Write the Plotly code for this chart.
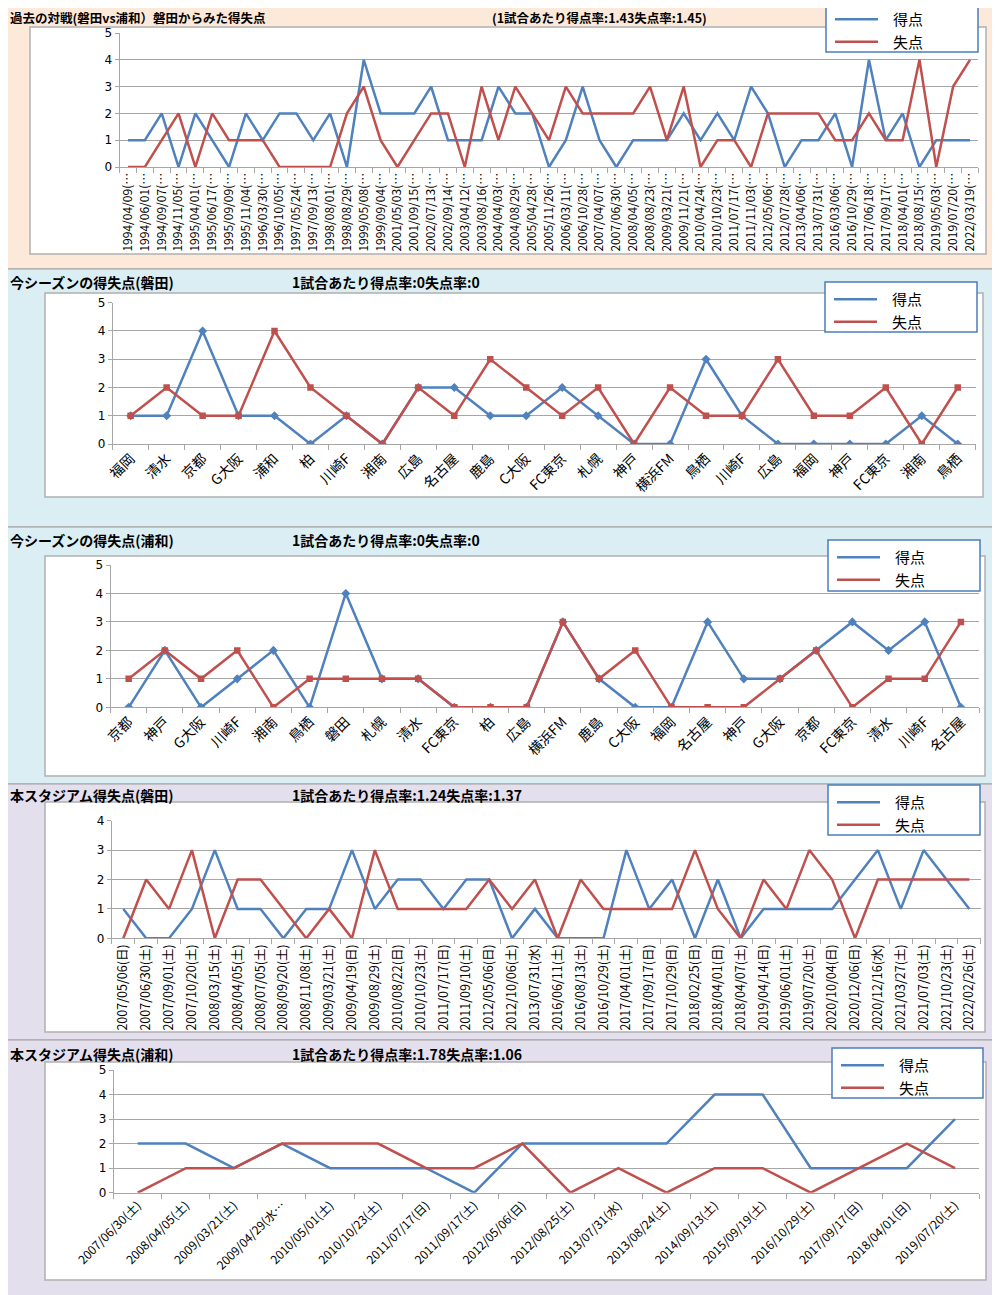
import plotly.graph_objects as go

W, H = 1000, 1295
OFF = 8  # the page body margin shifts the figure by 8px; positions below are page pixels
FONT = "Noto Sans CJK JP"
BLUE = "#4F81BD"
RED = "#C0504D"
GRID = "#A6A6A6"

# ---------------- data ----------------
# Panel 1: 過去の対戦
p1_dates = ["1994/04/09", "1994/06/01", "1994/09/07", "1994/11/05", "1995/04/01", "1995/06/17",
            "1995/09/09", "1995/11/04", "1996/03/30", "1996/10/05", "1997/05/24", "1997/09/13",
            "1998/08/01", "1998/08/29", "1999/05/08", "1999/09/04", "2001/05/03", "2001/09/15",
            "2002/07/13", "2002/09/14", "2003/04/12", "2003/08/16", "2004/04/03", "2004/08/29",
            "2005/04/28", "2005/11/26", "2006/03/11", "2006/10/28", "2007/04/07", "2007/06/30",
            "2008/04/05", "2008/08/23", "2009/03/21", "2009/11/21", "2010/04/24", "2010/10/23",
            "2011/07/17", "2011/11/03", "2012/05/06", "2012/07/28", "2013/04/06", "2013/07/31",
            "2016/03/06", "2016/10/29", "2017/06/18", "2017/09/17", "2018/04/01", "2018/08/15",
            "2019/05/03", "2019/07/20", "2022/03/19"]
p1_labels = [d + "(…" for d in p1_dates]
p1_gain = [1, 1, 2, 0, 2, 1, 0, 2, 1, 2, 2, 1, 2, 0, 4, 2, 2,
           2, 3, 1, 1, 1, 3, 2, 2, 0, 1, 3, 1, 0, 1, 1, 1, 2,
           1, 2, 1, 3, 2, 0, 1, 1, 2, 0, 4, 1, 2, 0, 1, 1, 1]
p1_loss = [0, 0, 1, 2, 0, 2, 1, 1, 1, 0, 0, 0, 0, 2, 3, 1, 0,
           1, 2, 2, 0, 3, 1, 3, 2, 1, 3, 2, 2, 2, 2, 3, 1, 3,
           0, 1, 1, 0, 2, 2, 2, 2, 1, 1, 2, 1, 1, 4, 0, 3, 4]

# Panel 2: 今シーズンの得失点(磐田)
p2_labels = ["福岡", "清水", "京都", "G大阪", "浦和", "柏", "川崎F", "湘南", "広島", "名古屋", "鹿島", "C大阪",
             "FC東京", "札幌", "神戸", "横浜FM", "鳥栖", "川崎F", "広島", "福岡", "神戸", "FC東京", "湘南", "鳥栖"]
p2_gain = [1, 1, 4, 1, 1, 0, 1, 0, 2, 2, 1, 1, 2, 1, 0, 0, 3, 1, 0, 0, 0, 0, 1, 0]
p2_loss = [1, 2, 1, 1, 4, 2, 1, 0, 2, 1, 3, 2, 1, 2, 0, 2, 1, 1, 3, 1, 1, 2, 0, 2]

# Panel 3: 今シーズンの得失点(浦和)
p3_labels = ["京都", "神戸", "G大阪", "川崎F", "湘南", "鳥栖", "磐田", "札幌", "清水", "FC東京", "柏", "広島",
             "横浜FM", "鹿島", "C大阪", "福岡", "名古屋", "神戸", "G大阪", "京都", "FC東京", "清水", "川崎F", "名古屋"]
p3_gain = [0, 2, 0, 1, 2, 0, 4, 1, 1, 0, 0, 0, 3, 1, 0, 0, 3, 1, 1, 2, 3, 2, 3, 0]
p3_loss = [1, 2, 1, 2, 0, 1, 1, 1, 1, 0, 0, 0, 3, 1, 2, 0, 0, 0, 1, 2, 0, 1, 1, 3]

# Panel 4: 本スタジアム得失点(磐田)
p4_labels = ["2007/05/06(日)", "2007/06/30(土)", "2007/09/01(土)", "2007/10/20(土)", "2008/03/15(土)",
             "2008/04/05(土)", "2008/07/05(土)", "2008/09/20(土)", "2008/11/08(土)", "2009/03/21(土)",
             "2009/04/19(日)", "2009/08/29(土)", "2010/08/22(日)", "2010/10/23(土)", "2011/07/17(日)",
             "2011/09/10(土)", "2012/05/06(日)", "2012/10/06(土)", "2013/07/31(水)", "2016/06/11(土)",
             "2016/08/13(土)", "2016/10/29(土)", "2017/04/01(土)", "2017/09/17(日)", "2017/10/29(日)",
             "2018/02/25(日)", "2018/04/01(日)", "2018/04/07(土)", "2019/04/14(日)", "2019/06/01(土)",
             "2019/07/20(土)", "2020/10/04(日)", "2020/12/06(日)", "2020/12/16(水)", "2021/03/27(土)",
             "2021/07/03(土)", "2021/10/23(土)", "2022/02/26(土)"]
p4_gain = [1, 0, 0, 1, 3, 1, 1, 0, 1, 1, 3, 1, 2, 2, 1, 2, 2, 0, 1,
           0, 0, 0, 3, 1, 2, 0, 2, 0, 1, 1, 1, 1, 2, 3, 1, 3, 2, 1]
p4_loss = [0, 2, 1, 3, 0, 2, 2, 1, 0, 1, 0, 3, 1, 1, 1, 1, 2, 1, 2,
           0, 2, 1, 1, 1, 1, 3, 1, 0, 2, 1, 3, 2, 0, 2, 2, 2, 2, 2]

# Panel 5: 本スタジアム得失点(浦和)
p5_labels = ["2007/06/30(土)", "2008/04/05(土)", "2009/03/21(土)", "2009/04/29(水…", "2010/05/01(土)",
             "2010/10/23(土)", "2011/07/17(日)", "2011/09/17(土)", "2012/05/06(日)", "2012/08/25(土)",
             "2013/07/31(水)", "2013/08/24(土)", "2014/09/13(土)", "2015/09/19(土)", "2016/10/29(土)",
             "2017/09/17(日)", "2018/04/01(日)", "2019/07/20(土)"]
p5_gain = [2, 2, 1, 2, 1, 1, 1, 0, 2, 2, 2, 2, 4, 4, 1, 1, 1, 3]
p5_loss = [0, 1, 1, 2, 2, 2, 1, 1, 2, 0, 1, 0, 1, 1, 0, 1, 2, 1]

titles_left = ["過去の対戦(磐田vs浦和）磐田からみた得失点", "今シーズンの得失点(磐田)", "今シーズンの得失点(浦和)",
               "本スタジアム得失点(磐田)", "本スタジアム得失点(浦和)"]
titles_right = ["(1試合あたり得点率:1.43失点率:1.45)", "1試合あたり得点率:0失点率:0", "1試合あたり得点率:0失点率:0",
                "1試合あたり得点率:1.24失点率:1.37", "1試合あたり得点率:1.78失点率:1.06"]
series_names = ["得点", "失点"]

# ---------------- layout geometry (page pixels) ----------------
panels = [
    dict(labels=p1_labels, gain=p1_gain, loss=p1_loss, ymax=5, markers=False,
         bg="#FDE9D9", band=(-20, 269), box=(30, 27, 986, 254), plot=(119.6, 33, 978.4, 167),
         legend=(826, 2, 978, 52), title_y=17, title_size=12.5, title2_x=490, angle=-90, tsize=12),
    dict(labels=p2_labels, gain=p2_gain, loss=p2_loss, ymax=5, markers=True,
         bg="#DAEEF3", band=(269, 527), box=(45, 293, 983, 497), plot=(112.7, 302.7, 975.7, 444),
         legend=(825, 282, 977, 332), title_y=282, title_size=14, title2_x=290, angle=-45, tsize=14),
    dict(labels=p3_labels, gain=p3_gain, loss=p3_loss, ymax=5, markers=True,
         bg="#DAEEF3", band=(527, 784), box=(45, 556, 985, 776), plot=(110.6, 565, 979, 707.3),
         legend=(828, 540, 980, 591), title_y=540, title_size=14, title2_x=290, angle=-45, tsize=14),
    dict(labels=p4_labels, gain=p4_gain, loss=p4_loss, ymax=4, markers=False,
         bg="#E4DFEC", band=(784, 1040), box=(45, 802, 985, 1032), plot=(111.9, 820.7, 980.8, 938.3),
         legend=(828, 785, 980, 835), title_y=795, title_size=14, title2_x=290, angle=-90, tsize=12.5),
    dict(labels=p5_labels, gain=p5_gain, loss=p5_loss, ymax=5, markers=False,
         bg="#E4DFEC", band=(1040, 1320), box=(45, 1062, 986, 1280), plot=(113.7, 1070, 979, 1192.7),
         legend=(832, 1048, 983, 1098), title_y=1054, title_size=14, title2_x=290, angle=-45, tsize=12),
]


def fx(p):
    return (p - OFF) / W


def fy(p):
    return 1 - (p - OFF) / H


fig = go.Figure()
shapes = []
annotations = []
layout = dict(
    width=W, height=H, margin=dict(l=0, r=0, t=0, b=0, pad=0, autoexpand=False),
    paper_bgcolor="white", plot_bgcolor="rgba(0,0,0,0)",
    font=dict(family=FONT, color="#000"),
)

NB = "\u00a0\u00a0\u00a0"

for i, p in enumerate(panels, start=1):
    xa = "x" if i == 1 else f"x{i}"
    ya = "y" if i == 1 else f"y{i}"
    lg = "legend" if i == 1 else f"legend{i}"
    n = len(p["labels"])
    xs = list(range(n))
    for name, vals, color, sym in [(series_names[0], p["gain"], BLUE, "diamond"),
                                   (series_names[1], p["loss"], RED, "square")]:
        fig.add_trace(go.Scatter(
            x=xs, y=vals, name=NB + name, xaxis=xa, yaxis=ya, legend=lg,
            mode="lines+markers" if p["markers"] else "lines",
            line=dict(color=color, width=2.5),
            marker=dict(symbol=sym, size=7 if sym == "diamond" else 6.5, color=color),
            showlegend=not p["markers"],
        ))
        if p["markers"]:
            # legend entry shows only the line, as in the original
            fig.add_trace(go.Scatter(
                x=[None], y=[None], name=NB + name, xaxis=xa, yaxis=ya, legend=lg,
                mode="lines", line=dict(color=color, width=2.5), showlegend=True,
            ))

    l, t, r, b = p["plot"]
    layout["xaxis" if i == 1 else f"xaxis{i}"] = dict(
        domain=[fx(l), fx(r)], anchor=ya, range=[-0.5, n - 0.5], automargin=False,
        tickmode="array", tickvals=xs, ticktext=p["labels"], tickangle=p["angle"],
        tickfont=dict(size=p["tsize"], family=FONT, color="#000"),
        ticks="", showgrid=False, zeroline=False,
        showline=True, linecolor=GRID, linewidth=1,
        minor=dict(tickmode="array", tickvals=[k - 0.5 for k in range(n + 1)],
                   ticks="outside", ticklen=5, tickcolor=GRID, tickwidth=1, showgrid=False),
        fixedrange=True,
    )
    layout["yaxis" if i == 1 else f"yaxis{i}"] = dict(
        domain=[fy(b), fy(t)], anchor=xa, range=[0, p["ymax"]], automargin=False,
        tickmode="array", tickvals=list(range(p["ymax"] + 1)),
        tickfont=dict(size=12, family="DejaVu Sans", color="#000"),
        showgrid=True, gridcolor=GRID, gridwidth=1, zeroline=False,
        showline=True, linecolor=GRID, linewidth=1,
        ticks="outside", ticklen=4, tickcolor=GRID,
        fixedrange=True,
    )

    # panel band
    b0, b1 = p["band"]
    shapes.append(dict(type="rect", xref="paper", yref="paper", x0=-0.02, x1=1.02,
                       y0=fy(b1), y1=fy(b0), fillcolor=p["bg"],
                       line=dict(color="#A0A0A0", width=1), layer="below"))
    # white chart box
    bx0, by0, bx1, by1 = p["box"]
    shapes.append(dict(type="rect", xref="paper", yref="paper", x0=fx(bx0), x1=fx(bx1),
                       y0=fy(by1), y1=fy(by0), fillcolor="white",
                       line=dict(color="#B0B0B0", width=1.5), layer="below"))
    # legend box
    lx0, ly0, lx1, ly1 = p["legend"]
    shapes.append(dict(type="rect", xref="paper", yref="paper", x0=fx(lx0), x1=fx(lx1),
                       y0=fy(ly1), y1=fy(ly0), fillcolor="white",
                       line=dict(color="#4A7EBB", width=1.5), layer="above"))
    layout[lg] = dict(
        x=fx(lx0 + 4), y=fy(ly0 + 1), xanchor="left", yanchor="top",
        bgcolor="rgba(0,0,0,0)", borderwidth=0,
        font=dict(size=15, family=FONT, color="#000"),
        itemwidth=43, tracegroupgap=0, traceorder="normal",
    )
    # titles
    ts = p["title_size"]
    annotations.append(dict(text="<b>" + titles_left[i - 1] + "</b>", xref="paper", yref="paper",
                            x=fx(OFF), y=fy(p["title_y"]), xanchor="left", yanchor="middle",
                            showarrow=False, font=dict(size=ts, family=FONT, color="#000")))
    annotations.append(dict(text="<b>" + titles_right[i - 1] + "</b>", xref="paper", yref="paper",
                            x=fx(p["title2_x"]), y=fy(p["title_y"]), xanchor="left", yanchor="middle",
                            showarrow=False, font=dict(size=ts, family=FONT, color="#000")))

layout["shapes"] = shapes
layout["annotations"] = annotations
fig.update_layout(**layout)
fig.write_html("out.html")
